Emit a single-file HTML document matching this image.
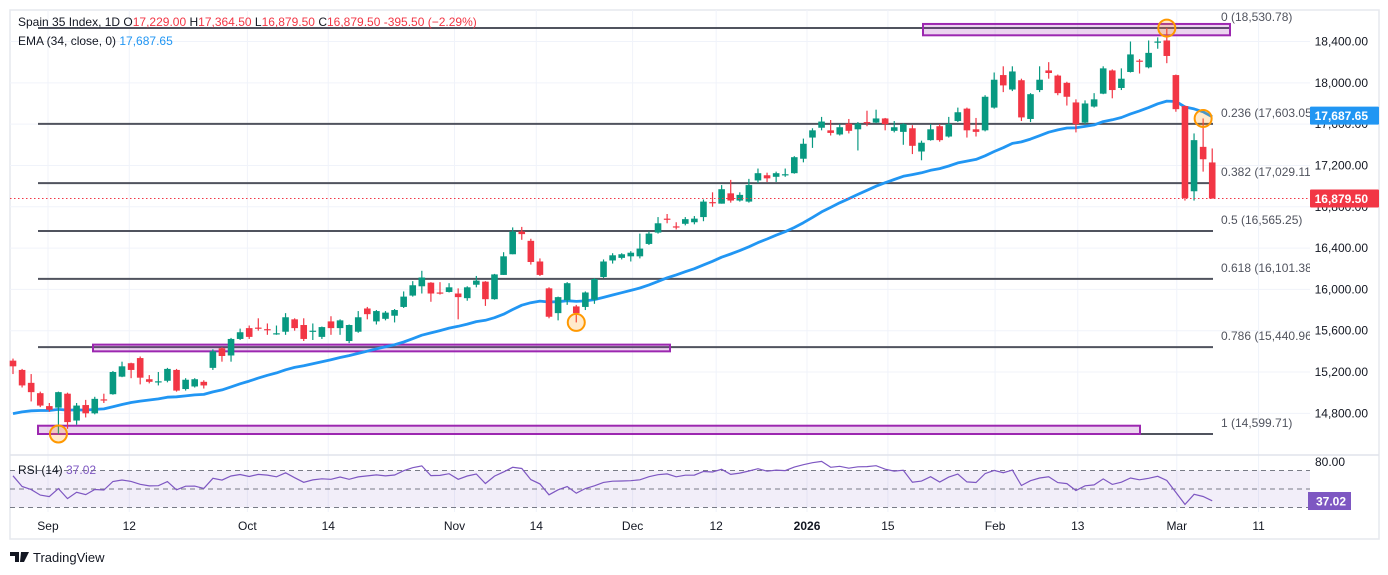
<!DOCTYPE html>
<html><head><meta charset="utf-8"><style>
html,body{margin:0;padding:0;background:#fff;}
svg{display:block;font-family:"Liberation Sans",sans-serif;}
</style></head><body>
<svg id="chart" width="1388" height="575" viewBox="0 0 1388 575" xmlns="http://www.w3.org/2000/svg">
<defs><clipPath id="plotclip"><rect x="10" y="10" width="1300" height="445"/></clipPath></defs>
<rect x="0" y="0" width="1388" height="575" fill="#fff"/>
<rect x="10" y="10" width="1369" height="529" fill="none" stroke="#e6e8ee" stroke-width="1.5"/>
<g id="grid"></g>
<g id="fib" clip-path="url(#plotclip)"></g>
<g id="boxes"></g>
<g id="ema"></g>
<g id="candles"></g>
<g id="marks"></g>
<g id="rsi"></g>
<g id="axes"></g>
<text x="18" y="26" font-size="12" fill="#131722">Spain 35 Index, 1D  <tspan fill="#131722">O</tspan><tspan fill="#f23645">17,229.00</tspan>  <tspan fill="#131722">H</tspan><tspan fill="#f23645">17,364.50</tspan>  <tspan fill="#131722">L</tspan><tspan fill="#f23645">16,879.50</tspan>  <tspan fill="#131722">C</tspan><tspan fill="#f23645">16,879.50  -395.50 (−2.29%)</tspan></text>
<text x="18" y="45" font-size="12" fill="#131722">EMA (34, close, 0)  <tspan fill="#2196f3">17,687.65</tspan></text>
<g>
<path d="M10 552h9v10h-4v-6h-5z M21 552h8l-5 10h-4z" fill="#131722"/>
<text x="33" y="562" font-size="13" fill="#131722">TradingView</text>
</g>
</svg>
<script>
const opens=[15310,15220,15095,14995,14870,14855,14990,14730,14880,14800,14935,14985,15155,15285,15335,15130,15105,15115,15220,15035,15060,15105,15240,15430,15360,15520,15625,15630,15615,15575,15590,15710,15655,15595,15540,15690,15625,15500,15590,15815,15690,15715,15745,15830,15940,16030,16065,15970,15975,15960,15915,16045,16075,15905,16140,16340,16560,16470,16270,16010,15770,15895,15835,15830,15900,16120,16280,16305,16320,16320,16440,16550,16685,16610,16635,16650,16700,16845,16830,16930,16860,16850,17055,17105,17090,17110,17125,17265,17470,17565,17540,17500,17605,17550,17620,17615,17655,17535,17525,17560,17335,17445,17580,17480,17630,17750,17550,17540,17760,18075,17935,18025,17650,17930,18120,18070,18000,17810,17615,17770,17895,18120,17950,18105,18215,18150,18390,18410,18075,17775,16950,17380,17229];
const closes=[15255,15070,15005,14875,14835,15005,14715,14875,14800,14940,14925,15200,15255,15220,15145,15105,15110,15230,15020,15125,15130,15070,15400,15355,15520,15585,15540,15625,15610,15575,15730,15625,15520,15600,15635,15625,15700,15655,15730,15760,15790,15775,15800,15930,16040,16115,15960,15965,16020,15925,16020,16085,15905,16145,16320,16560,16535,16265,16140,15735,15925,16060,15770,15970,16100,16270,16330,16340,16355,16395,16540,16640,16680,16605,16680,16685,16850,16840,16970,16860,16915,17010,17125,17075,17125,17115,17280,17410,17540,17625,17515,17570,17535,17605,17615,17655,17600,17570,17600,17390,17420,17550,17445,17600,17715,17540,17525,17865,18030,17975,18110,17665,17890,18030,18095,17900,17865,17600,17800,17840,18140,17930,18040,18275,18210,18290,18400,18260,17745,16885,17445,17260,16879.5];
const highs=[15330,15230,15180,15010,14900,15010,15000,14900,14930,14960,14990,15210,15300,15290,15350,15170,15200,15240,15230,15140,15140,15120,15420,15440,15530,15620,15650,15720,15670,15650,15770,15720,15720,15670,15640,15740,15710,15660,15790,15830,15800,15790,15810,15980,16080,16180,16070,16070,16060,16010,16030,16130,16080,16150,16360,16600,16605,16490,16300,16020,15930,16070,15850,15980,16110,16290,16350,16350,16370,16540,16560,16700,16730,16650,16700,16710,16870,16940,17010,17060,16940,17070,17170,17130,17140,17170,17290,17460,17560,17670,17640,17600,17650,17620,17730,17740,17660,17630,17610,17590,17440,17600,17600,17670,17760,17760,17660,17880,18100,18160,18160,18040,17900,18160,18200,18080,18010,17840,17830,17900,18160,18130,18140,18400,18230,18410,18440,18530,18080,17780,17510,17655,17364.5];
const lows=[15180,15050,14915,14860,14815,14600,14650,14690,14760,14790,14900,14980,15150,15140,15080,15090,15070,15100,15010,15020,15050,15040,15220,15300,15300,15510,15520,15600,15560,15560,15560,15600,15500,15510,15520,15560,15560,15480,15580,15710,15660,15700,15680,15820,15930,15960,15880,15950,15970,15710,15890,16020,15840,15900,16140,16340,16480,16240,16130,15720,15700,15850,15680,15800,15860,16110,16250,16290,16270,16300,16430,16540,16640,16580,16620,16630,16660,16800,16830,16840,16850,16840,17030,17040,17040,17090,17120,17230,17370,17540,17490,17490,17510,17345,17580,17610,17540,17520,17400,17310,17250,17440,17430,17470,17620,17470,17480,17530,17750,17910,17920,17630,17620,17910,18040,17880,17780,17520,17600,17760,17890,17850,17930,18100,18090,18140,18330,18190,17720,16860,16860,17140,16879.5];
const priceTicks=[18400,18000,17600,17200,16800,16400,16000,15600,15200,14800];
const dateLabels=["Sep","12","Oct","14","Nov","14","Dec","12","2026","15","Feb","13","Mar","11"];
const dateIndex=[3.85,12.8,25.8,34.7,48.6,57.6,68.2,77.4,87.4,96.3,108.1,117.2,128.1,137.1];
const fibLevels=[0,0.236,0.382,0.5,0.618,0.786,1];
const fibPrices=[18530.78,17603.05,17029.11,16565.25,16101.38,15440.96,14599.71];
const emaSeed=14770;
const rsiSeedGain=45, rsiSeedLoss=25;
const lastEma=17687.65, lastRsi=37.02;

const NS="http://www.w3.org/2000/svg";
const xS=i=>13+i*9.085;
const yS=p=>28+(18530.78-p)*0.10328;
const ryS=v=>489-(v-50)*0.925;
function mk(tag,attrs,parent){const e=document.createElementNS(NS,tag);for(const k in attrs)e.setAttribute(k,attrs[k]);parent.appendChild(e);return e;}
const fmt=v=>v.toLocaleString('en-US',{minimumFractionDigits:2,maximumFractionDigits:2});
const G=id=>document.getElementById(id);

const grid=G('grid');
priceTicks.forEach(p=>{const l=mk('line',{x1:10,x2:1310,y1:yS(p),y2:yS(p),stroke:'#f0f3fa','stroke-width':1},grid);

});
dateIndex.forEach(d=>{const l=mk('line',{x1:xS(d),x2:xS(d),y1:10,y2:512,stroke:'#f0f3fa','stroke-width':1},grid);

});
const sep=mk('line',{x1:10,x2:1379,y1:455,y2:455,stroke:'#e0e3eb','stroke-width':1.5},grid);



const fib=G('fib');
fibPrices.forEach((p,k)=>{const y=yS(p);
const l=mk('line',{x1:38,x2:k===0?1230:1213,y1:y,y2:y,stroke:'#50535e','stroke-width':2},fib);


const t=mk('text',{x:1221,y:y-7,'font-size':12,fill:'#50535e'},fib);
t.textContent=fibLevels[k]+' ('+fmt(p)+')';

});

const boxes=G('boxes');
[[923,1230,18570,18460],[93,670,15465,15400],[38,1140,14680,14599.71]].forEach(b=>{
const r=mk('rect',{x:b[0],y:yS(b[2]),width:b[1]-b[0],height:yS(b[3])-yS(b[2]),fill:'rgba(156,39,176,0.2)',stroke:'#9c27b0','stroke-width':2},boxes);

});

const ema=[];let prev=emaSeed;const a=2/35;
closes.forEach(c=>{prev=prev+a*(c-prev);ema.push(prev);});
const ep=mk('path',{d:ema.map((v,i)=>(i?'L':'M')+xS(i).toFixed(1)+' '+yS(v).toFixed(1)).join(''),fill:'none',stroke:'#2196f3','stroke-width':2.8,'stroke-linejoin':'round'},G('ema'));



const cg=G('candles');
closes.forEach((c,i)=>{const o=opens[i];const col=c>=o?'#089981':'#f23645';const x=xS(i);
const g=mk('g',{},cg);


mk('line',{x1:x,x2:x,y1:yS(highs[i]),y2:yS(lows[i]),stroke:col,'stroke-width':1.2},g);
const top=yS(Math.max(o,c)),bot=yS(Math.min(o,c));
mk('rect',{x:x-3.3,y:top,width:6.6,height:Math.max(1.2,bot-top),fill:col},g);});

const mg=G('marks');
[[5,14600],[62,15680],[127,18530],[131,17655]].forEach(m=>{
const c=mk('circle',{cx:xS(m[0]),cy:yS(m[1]),r:8.5,fill:'rgba(255,152,0,0.2)',stroke:'#ff9800','stroke-width':2},mg);

});

const ax=G('axes');
const cp=closes[closes.length-1];
const pl=mk('line',{x1:10,x2:1310,y1:yS(cp),y2:yS(cp),stroke:'#f23645','stroke-width':1,'stroke-dasharray':'1.5 2.5'},ax);


priceTicks.forEach(p=>{const t=mk('text',{x:1368,y:yS(p)+4,'font-size':12,fill:'#131722','text-anchor':'end'},ax);
t.textContent=fmt(p);

});
function tag(y,bg,txt,name){const g=mk('g',{},ax);


mk('rect',{x:1310,y:y-9,width:69,height:18,fill:bg,rx:1},g);
const t=mk('text',{x:1368,y:y+4.5,'font-size':12,fill:'#fff','text-anchor':'end','font-weight':'bold'},g);t.textContent=txt;}
tag(yS(cp),'#f23645',fmt(cp),'last-price-tag');
tag(yS(lastEma)+0.5,'#2196f3',fmt(lastEma),'ema-price-tag');
dateLabels.forEach((d,k)=>{const t=mk('text',{x:xS(dateIndex[k]),y:530,'font-size':12,fill:'#131722','text-anchor':'middle','font-weight':d==='2026'?'bold':'normal'},ax);
t.textContent=d;

});

const rg=G('rsi');
const band=mk('rect',{x:10,y:ryS(70),width:1300,height:ryS(30)-ryS(70),fill:'rgba(126,87,194,0.1)'},rg);


[70,50,30].forEach(v=>{const l=mk('line',{x1:10,x2:1310,y1:ryS(v),y2:ryS(v),stroke:'#787b86','stroke-width':1,'stroke-dasharray':'5 4'},rg);

});
let ag=rsiSeedGain,al=rsiSeedLoss;const rsi=[];
closes.forEach((c,i)=>{const ch=i?c-closes[i-1]:0;ag=(ag*13+Math.max(ch,0))/14;al=(al*13+Math.max(-ch,0))/14;rsi.push(100-100/(1+ag/al));});
const rp=mk('path',{d:rsi.map((v,i)=>(i?'L':'M')+xS(i).toFixed(1)+' '+ryS(v).toFixed(1)).join(''),fill:'none',stroke:'#7e57c2','stroke-width':1.2},rg);


const rl=mk('text',{x:18,y:474,'font-size':12,fill:'#131722'},rg);
rl.innerHTML='RSI (14)  <tspan fill="#7e57c2">'+lastRsi.toFixed(2)+'</tspan>';


const r80=mk('text',{x:1345,y:466,'font-size':12,fill:'#131722','text-anchor':'end'},rg);
r80.textContent='80.00';


const rt=mk('g',{},rg);


mk('rect',{x:1308,y:ryS(lastRsi)-9,width:43,height:18,fill:'#7e57c2'},rt);
const rtt=mk('text',{x:1346,y:ryS(lastRsi)+4.5,'font-size':12,fill:'#fff','text-anchor':'end','font-weight':'bold'},rt);rtt.textContent=lastRsi.toFixed(2);
</script>
</body></html>
